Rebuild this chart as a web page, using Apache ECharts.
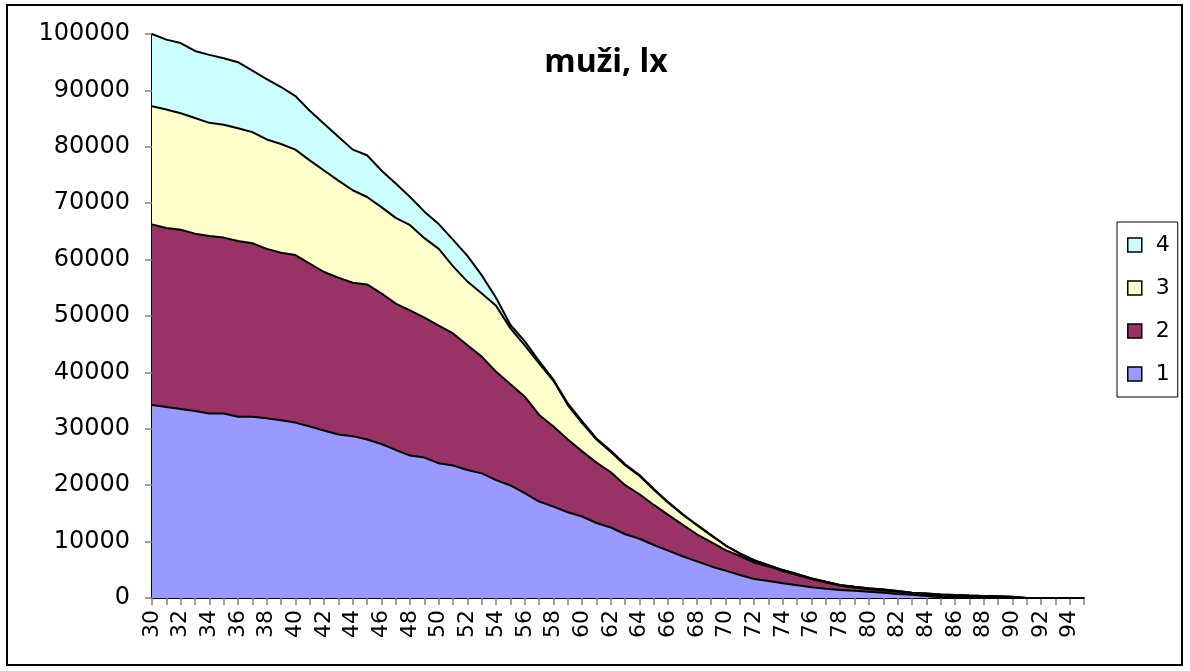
<!DOCTYPE html>
<html>
<head>
<meta charset="utf-8">
<script src="https://cdn.jsdelivr.net/npm/echarts@6/dist/echarts.min.js"></script>
<style>
html,body{margin:0;padding:0;background:#fff;}
#chart{width:1190px;height:671px;}
</style>
</head>
<body>
<div id="chart"></div>
<script>
var ages = [];
for (var a = 30; a <= 95; a++) ages.push(String(a));

var legendNames = ['4', '3', '2', '1'];
var yTicks = [0, 10000, 20000, 30000, 40000, 50000, 60000, 70000, 80000, 90000, 100000];

var s1 = [34200,33860,33500,33150,32700,32700,32150,32150,31850,31500,
          31100,30400,29700,29000,28700,28100,27300,26250,25250,24900,
          23900,23500,22700,22100,20900,19950,18600,17100,16200,15200,
          14450,13300,12500,11300,10500,9400,8400,7400,6500,5600,
          4850,4080,3370,3010,2600,2250,1900,1650,1420,1300,
          1120,940,710,590,350,150,80,50,30,20,
          10,0,0,0,0,0];
var s2 = [32050,31740,31800,31450,31500,31200,31150,30750,30050,29700,
          29700,28900,28100,27800,27200,27500,26700,25950,25750,24800,
          24400,23400,22100,20700,19200,17950,17100,15350,14200,12900,
          11550,10700,9800,8700,7900,7100,6350,5600,4800,4300,
          3650,3370,2930,2590,2200,1800,1450,1100,760,550,
          430,410,390,240,270,300,270,230,200,160,
          120,0,0,0,0,0];
var s3 = [20950,21000,20650,20500,20050,20000,20000,19700,19400,19300,
          18700,18300,18000,17200,16400,15500,15300,15200,15100,14100,
          13600,11900,11300,11200,11700,9900,9100,9150,8100,6100,
          5000,4100,3600,3550,3250,2700,2130,1800,1600,1200,
          800,400,350,200,130,180,120,120,100,130,
          150,150,150,90,160,180,180,160,140,120,
          100,0,0,0,0,0];
var s4 = [12800,12400,12450,11900,12050,11800,11700,10900,10700,10100,
          9500,8800,8300,7800,7200,7400,6500,6100,5000,4700,
          4400,4700,4550,3200,1400,600,700,400,200,300,
          300,200,200,150,150,150,120,100,100,50,
          50,50,50,30,20,20,10,10,10,10,
          10,10,10,10,10,10,10,5,5,5,
          5,0,0,0,0,0];

var fills = {'1':'#9999FF','2':'#993366','3':'#FFFFCC','4':'#CCFFFF'};

function mk(name, data) {
  return {
    name: name, type: 'line', stack: 'total', data: data,
    showSymbol: false, symbol: 'none', smooth: false,
    color: fills[name],
    lineStyle: {color: '#000', width: 2},
    areaStyle: {color: fills[name], opacity: 1},
    emphasis: {disabled: true},
    z: 2
  };
}

var chart = echarts.init(document.getElementById('chart'), null, {renderer: 'canvas'});
chart.setOption({
  animation: false,
  backgroundColor: '#fff',
  title: {
    text: 'muži, lx',
    left: 601, top: 42, textAlign: 'center',
    textStyle: {fontFamily: 'Open Sans', fontWeight: 'bold', fontSize: 32, color: '#000'}
  },
  legend: {
    data: legendNames,
    orient: 'vertical',
    left: 1117, top: 222,
    icon: 'rect',
    itemWidth: 14, itemHeight: 14,
    itemGap: 21,
    padding: [12, 8, 12, 10],
    borderColor: '#000', borderWidth: 1,
    itemStyle: {borderColor: '#000', borderWidth: 1.5},
    textStyle: {fontFamily: 'DejaVu Sans', fontSize: 22, color: '#000', padding: [0,0,0,9]},
    selectedMode: false
  },
  graphic: [{
    type: 'rect', shape: {x: 7, y: 5, width: 1175, height: 660},
    style: {fill: 'none', stroke: '#000', lineWidth: 2}, silent: true, z: 100
  }],
  grid: {left: 152, right: 106, top: 34, bottom: 73, containLabel: false},
  xAxis: {
    type: 'category', data: ages, boundaryGap: false,
    axisLine: {show: true, lineStyle: {color: '#000', width: 2}},
    axisTick: {show: true, interval: 0, length: 7, lineStyle: {color: '#808080', width: 1.5}},
    axisLabel: {interval: 1, rotate: 90, margin: 12, fontFamily: 'DejaVu Sans', fontSize: 22, color: '#000'},
    splitLine: {show: false}
  },
  yAxis: {
    type: 'value', min: 0, max: 100000, interval: 10000,
    axisLine: {show: true, lineStyle: {color: '#000', width: 2}},
    axisTick: {show: true, length: 7, lineStyle: {color: '#808080', width: 1.5}},
    axisLabel: {margin: 22, fontFamily: 'DejaVu Sans', fontSize: 24, color: '#000',
      formatter: function (v) { return yTicks.indexOf(v) >= 0 ? String(v) : ''; }},
    splitLine: {show: false}
  },
  series: [mk('1', s1), mk('2', s2), mk('3', s3), mk('4', s4)]
});
</script>
</body>
</html>
